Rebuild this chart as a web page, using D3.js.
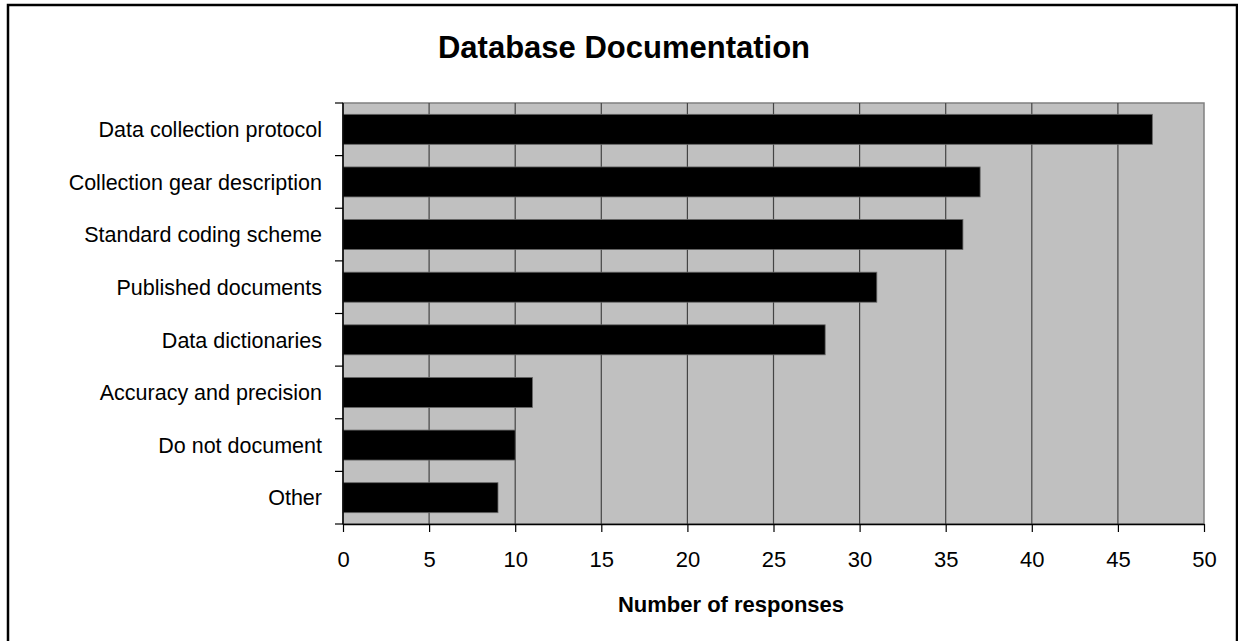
<!DOCTYPE html>
<html>
<head>
<meta charset="utf-8">
<script src="https://cdn.jsdelivr.net/npm/d3@7"></script>
<style>
  body { margin: 0; background: #fff; }
  svg { display: block; font-family: Arial, "Liberation Sans", sans-serif; }
</style>
</head>
<body>
<svg id="chart" width="1238" height="641"></svg>
<script>
const categories = [
  "Data collection protocol",
  "Collection gear description",
  "Standard coding scheme",
  "Published documents",
  "Data dictionaries",
  "Accuracy and precision",
  "Do not document",
  "Other"
];
const responses = [47, 37, 36, 31, 28, 11, 10, 9];
const xTicks = [0, 5, 10, 15, 20, 25, 30, 35, 40, 45, 50];

const svg = d3.select("#chart");
const margin = { left: 343, right: 34, top: 103, bottom: 117 };
const width = 1238, height = 641;

// outer frame
svg.append("rect")
  .attr("x", 8).attr("y", 5)
  .attr("width", 1229).attr("height", 640)
  .attr("fill", "none").attr("stroke", "#000").attr("stroke-width", 2.5);

const x = d3.scaleLinear().domain([0, 50]).range([margin.left, width - margin.right]);
const y = d3.scaleBand().domain(categories)
  .range([margin.top, height - margin.bottom])
  .paddingInner(0.43).paddingOuter(0.215);

// plot background
svg.append("rect")
  .attr("x", x(0)).attr("y", margin.top)
  .attr("width", x(50) - x(0)).attr("height", height - margin.bottom - margin.top)
  .attr("fill", "#c0c0c0").attr("stroke", "#808080").attr("stroke-width", 1.5);

// gridlines
svg.append("g")
  .selectAll("line")
  .data(xTicks.slice(1, -1))
  .join("line")
  .attr("x1", d => x(d)).attr("x2", d => x(d))
  .attr("y1", margin.top).attr("y2", height - margin.bottom)
  .attr("stroke", "#444").attr("stroke-width", 1.2);

// bars
svg.append("g")
  .selectAll("rect")
  .data(categories)
  .join("rect")
  .attr("x", x(0))
  .attr("y", d => y(d))
  .attr("width", (d, i) => x(responses[i]) - x(0))
  .attr("height", y.bandwidth())
  .attr("fill", "#000")
  .attr("stroke", "#666").attr("stroke-width", 0.8);

// left axis
const step = y.step();
const yAxis = svg.append("g").attr("transform", `translate(${x(0)},0)`);
yAxis.append("line")
  .attr("x1", 0).attr("x2", 0)
  .attr("y1", margin.top).attr("y2", height - margin.bottom)
  .attr("stroke", "#000").attr("stroke-width", 1.5);
yAxis.selectAll("line.tick")
  .data(d3.range(categories.length + 1))
  .join("line")
  .attr("class", "tick")
  .attr("x1", -8).attr("x2", 0)
  .attr("y1", i => margin.top + i * step)
  .attr("y2", i => margin.top + i * step)
  .attr("stroke", "#000").attr("stroke-width", 1.2);
yAxis.selectAll("text")
  .data(categories)
  .join("text")
  .attr("x", -21)
  .attr("y", d => y(d) + y.bandwidth() / 2)
  .attr("dy", "0.36em")
  .attr("text-anchor", "end")
  .attr("font-size", 21.5)
  .attr("fill", "#000")
  .text(d => d);

// bottom axis
const xAxis = svg.append("g")
  .attr("transform", `translate(0,${height - margin.bottom})`)
  .call(d3.axisBottom(x).tickValues(xTicks).tickSize(8).tickPadding(19).tickSizeOuter(0));
xAxis.select(".domain").attr("stroke", "#000").attr("stroke-width", 1.5);
xAxis.selectAll(".tick line").attr("stroke", "#000").attr("stroke-width", 1.2);
xAxis.selectAll(".tick text")
  .attr("font-size", 22)
  .attr("font-family", "Arial, 'Liberation Sans', sans-serif")
  .attr("fill", "#000");

// titles
svg.append("text")
  .attr("x", 624).attr("y", 58)
  .attr("text-anchor", "middle")
  .attr("font-size", 31).attr("font-weight", "bold")
  .text("Database Documentation");

svg.append("text")
  .attr("x", 731).attr("y", 612)
  .attr("text-anchor", "middle")
  .attr("font-size", 22).attr("font-weight", "bold")
  .text("Number of responses");
</script>
</body>
</html>
